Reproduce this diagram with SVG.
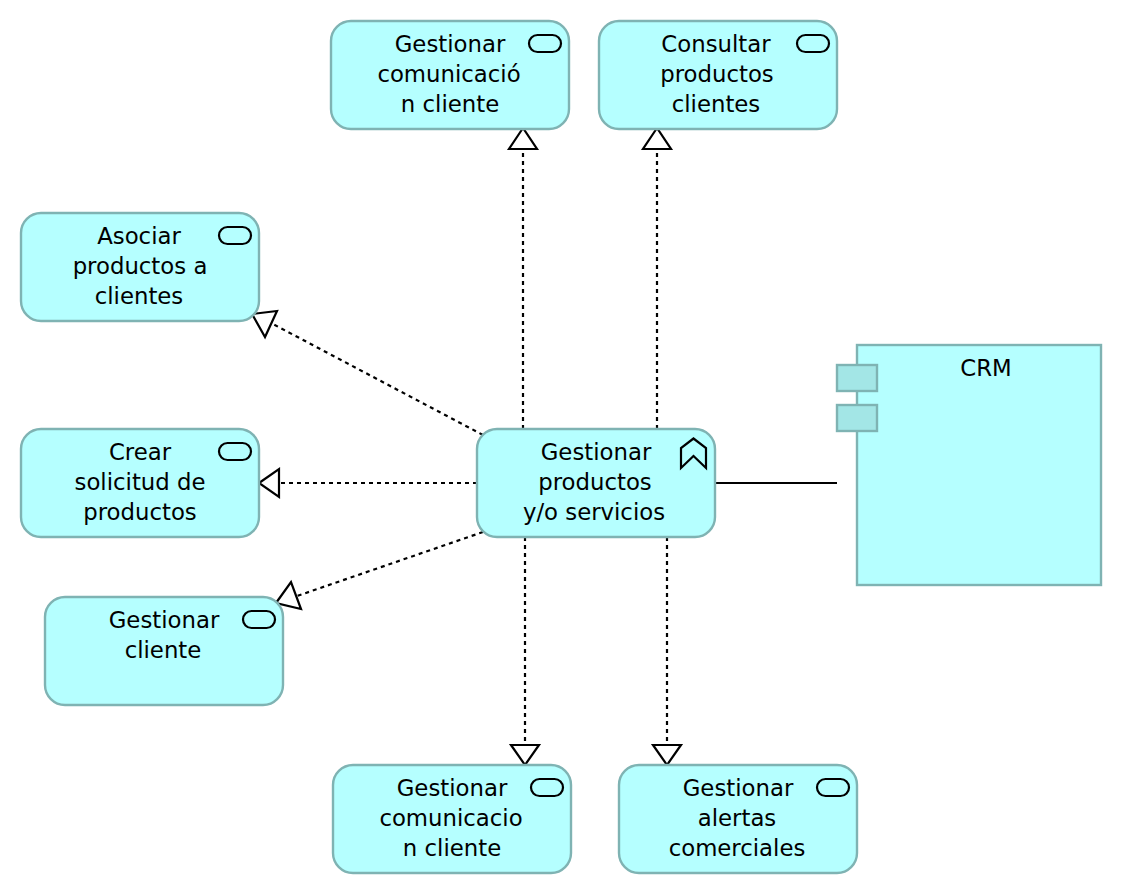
<svg xmlns="http://www.w3.org/2000/svg" width="1122" height="894" viewBox="0 0 1122 894">
<style>
.n{fill:#b5ffff;stroke:#7fb3b3;stroke-width:2.4}
.i{fill:none;stroke:#000;stroke-width:2.2}
.t{font-family:"DejaVu Sans",sans-serif;font-size:22.8px;fill:#000;text-anchor:middle}
.d{fill:none;stroke:#000;stroke-width:2.2;stroke-dasharray:4 4}
.a{fill:#fff;stroke:#000;stroke-width:2.2}
.p{fill:#a3e6e6;stroke:#7fb3b3;stroke-width:2.4}
</style>
<rect width="1122" height="894" fill="#fff"/>
<g id="connectors">
<path class="d" d="M523 429V149"/>
<path class="d" d="M657 429V149"/>
<path class="d" d="M483 435L271 323"/>
<path class="d" d="M477 483H279"/>
<path class="d" d="M483 532L297 596"/>
<path class="d" d="M525 537V745"/>
<path class="d" d="M667 537V745"/>
<path d="M715 483H837" fill="none" stroke="#000" stroke-width="2.2"/>
<polygon class="a" points="523,128 509,149 537,149"/>
<polygon class="a" points="657,128 643,149 671,149"/>
<polygon class="a" points="252,314 277,311 265,337"/>
<polygon class="a" points="259,483 279,469 279,497"/>
<polygon class="a" points="276,603 291,582 301,609"/>
<polygon class="a" points="525,765 511,745 539,745"/>
<polygon class="a" points="667,765 653,745 681,745"/>
</g>
<g id="n-gestionar-comunicacion"><rect class="n" x="331" y="21" width="238" height="108" rx="20"/><rect class="i" x="529" y="35" width="32" height="17" rx="8.5"/><text class="t" x="450" y="52">Gestionar</text><text class="t" x="449" y="82">comunicació</text><text class="t" x="450" y="112">n cliente</text></g>
<g id="n-consultar"><rect class="n" x="599" y="21" width="238" height="108" rx="20"/><rect class="i" x="797" y="35" width="32" height="17" rx="8.5"/><text class="t" x="716" y="52">Consultar</text><text class="t" x="717" y="82">productos</text><text class="t" x="716" y="112">clientes</text></g>
<g id="n-asociar"><rect class="n" x="21" y="213" width="238" height="108" rx="20"/><rect class="i" x="219" y="227" width="32" height="17" rx="8.5"/><text class="t" x="139" y="244">Asociar</text><text class="t" x="140" y="274">productos a</text><text class="t" x="139" y="304">clientes</text></g>
<g id="n-crear"><rect class="n" x="21" y="429" width="238" height="108" rx="20"/><rect class="i" x="219" y="443" width="32" height="17" rx="8.5"/><text class="t" x="140" y="460">Crear</text><text class="t" x="140" y="490">solicitud de</text><text class="t" x="140" y="520">productos</text></g>
<g id="n-gestionar-cliente"><rect class="n" x="45" y="597" width="238" height="108" rx="20"/><rect class="i" x="243" y="611" width="32" height="17" rx="8.5"/><text class="t" x="164" y="628">Gestionar</text><text class="t" x="163" y="658">cliente</text></g>
<g id="n-gestionar-productos"><rect class="n" x="477" y="429" width="238" height="108" rx="20"/><path class="i" d="M681 468V448L693.5 438.5L706 448V468L693.5 456Z"/><text class="t" x="596" y="460">Gestionar</text><text class="t" x="595" y="490">productos</text><text class="t" x="594" y="520">y/o servicios</text></g>
<g id="n-crm"><rect class="n" x="857" y="345" width="244" height="240"/><rect class="p" x="837" y="365" width="40" height="26"/><rect class="p" x="837" y="405" width="40" height="26"/><text class="t" x="986" y="376">CRM</text></g>
<g id="n-gestionar-comunicacion2"><rect class="n" x="333" y="765" width="238" height="108" rx="20"/><rect class="i" x="531" y="779" width="32" height="17" rx="8.5"/><text class="t" x="452" y="796">Gestionar</text><text class="t" x="451" y="826">comunicacio</text><text class="t" x="452" y="856">n cliente</text></g>
<g id="n-alertas"><rect class="n" x="619" y="765" width="238" height="108" rx="20"/><rect class="i" x="817" y="779" width="32" height="17" rx="8.5"/><text class="t" x="738" y="796">Gestionar</text><text class="t" x="737" y="826">alertas</text><text class="t" x="737" y="856">comerciales</text></g>
</svg>
